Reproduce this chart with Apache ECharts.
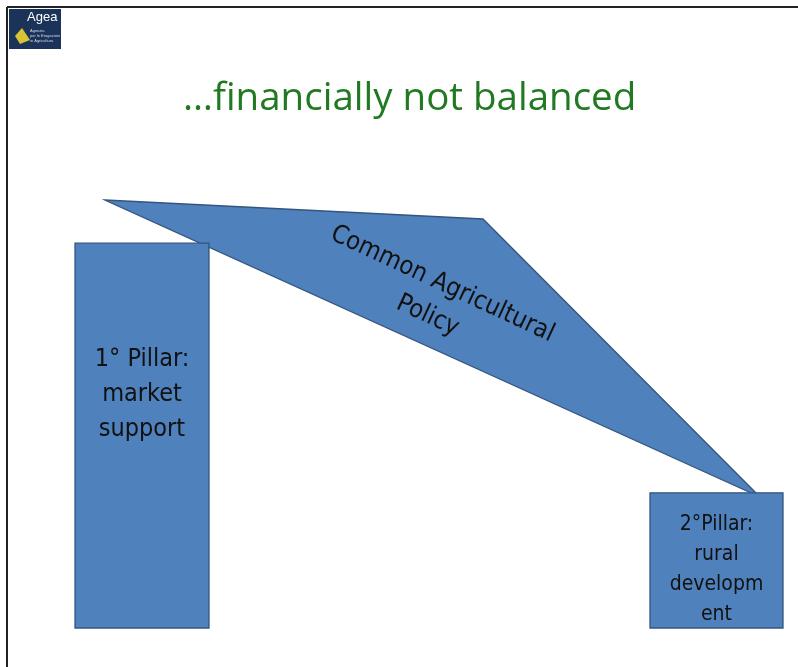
<!DOCTYPE html>
<html>
<head>
<meta charset="utf-8">
<script src="https://cdn.jsdelivr.net/npm/echarts@6/dist/echarts.min.js"></script>
<style>html,body{margin:0;padding:0;background:#fff}#c{width:798px;height:667px}</style>
</head>
<body>
<div id="c"></div>
<script>
var titleText = '\u2026financially not balanced';
var categories = ['1\u00b0 Pillar:\nmarket\nsupport', '2\u00b0Pillar:\nrural\ndevelopm\nent'];
var shares = [74, 26];
var policyLabel = 'Common Agricultural\nPolicy';

var barCenters = [142, 716.5];
var barWidths = [134, 133];
var labelStyles = [
  {fontSize: 25, lineHeight: 35, pos: 0.393},
  {fontSize: 21, lineHeight: 30, pos: 0.57}
];
var FONT = '"DejaVu Sans Condensed", "DejaVu Sans"';

var chart = echarts.init(document.getElementById('c'), null, {renderer: 'canvas'});
var fill = '#4F81BD', edge = '#34557F';

chart.setOption({
  animation: false,
  backgroundColor: '#fff',
  title: {
    text: titleText,
    left: 178,
    top: 75,
    textStyle: {color: '#217A21', fontSize: 38.5, fontWeight: 'normal', fontFamily: 'Open Sans'}
  },
  grid: {left: 0, right: 0, top: 108, bottom: 39},
  xAxis: {type: 'value', min: 0, max: 798, show: false},
  yAxis: {type: 'value', min: 0, max: 100, show: false},
  graphic: [
    {type: 'line', shape: {x1: 7, y1: 7, x2: 798, y2: 7}, style: {stroke: '#222', lineWidth: 2}},
    {type: 'line', shape: {x1: 7, y1: 7, x2: 7, y2: 667}, style: {stroke: '#222', lineWidth: 2}},
    {type: 'rect', shape: {x: 9, y: 9, width: 52, height: 40}, style: {fill: '#1B3358'}},
    {type: 'text', x: 27, y: 11, style: {text: 'Agea', fill: '#fff', font: '13px "Liberation Sans"'}},
    {type: 'text', x: 30, y: 28, style: {text: 'Agenzia\nper le Erogazioni\nin Agricoltura', fill: '#cfd8e8', font: '4px "Liberation Sans"', lineHeight: 5}},
    {type: 'polygon', shape: {points: [[15, 36], [22, 28], [30, 40], [20, 44]]}, style: {fill: '#D9C233'}},
    {type: 'polygon', z: 0,
      shape: {points: [[105, 200], [483, 219], [760, 497]]},
      style: {fill: fill, stroke: edge, lineWidth: 1.3}},
    {type: 'text', z: 1, x: 435, y: 300, rotation: -25 * Math.PI / 180,
      style: {text: policyLabel, fill: '#111', font: '25.5px ' + FONT, align: 'center', verticalAlign: 'middle', lineHeight: 35}}
  ],
  series: [{
    type: 'custom',
    z: 2,
    data: shares.map(function (v, i) { return [i, v]; }),
    renderItem: function (params, api) {
      var i = api.value(0);
      var top = api.coord([barCenters[i], api.value(1)]);
      var bottom = api.coord([barCenters[i], 0]);
      var w = barWidths[i];
      var h = bottom[1] - top[1];
      var ls = labelStyles[i];
      return {
        type: 'group',
        children: [
          {type: 'rect', shape: {x: top[0] - w / 2, y: top[1], width: w, height: h},
            style: {fill: fill, stroke: edge, lineWidth: 1.3}},
          {type: 'text', x: top[0], y: top[1] + h * ls.pos,
            style: {text: categories[i], fill: '#111', align: 'center', verticalAlign: 'middle',
              font: ls.fontSize + 'px ' + FONT, lineHeight: ls.lineHeight}}
        ]
      };
    }
  }]
});
</script>
</body>
</html>
